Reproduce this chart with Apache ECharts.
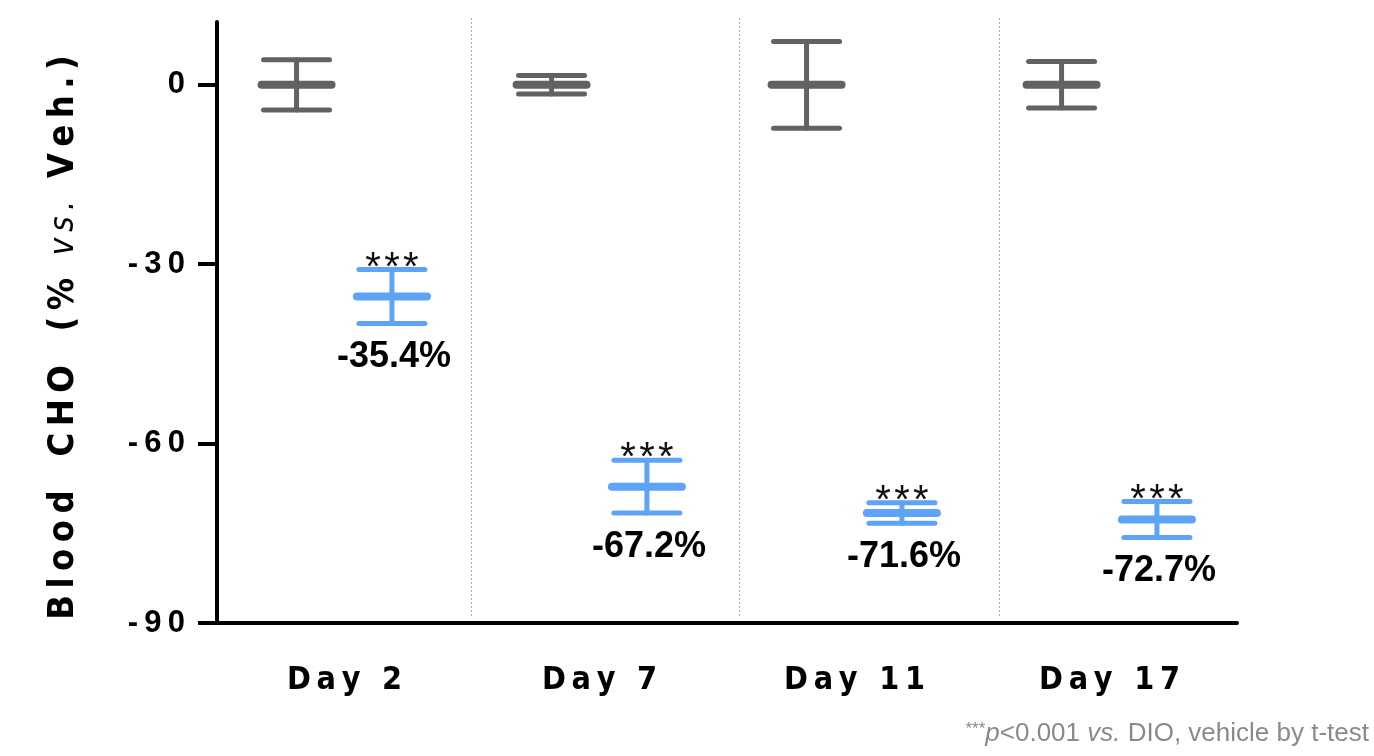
<!DOCTYPE html>
<html>
<head>
<meta charset="utf-8">
<title>Blood CHO</title>
<script src="https://cdn.jsdelivr.net/npm/echarts@6/dist/echarts.min.js"></script>
<style>
  html, body { margin: 0; padding: 0; background: #ffffff; }
  #chart { width: 1374px; height: 756px; }
</style>
</head>
<body>
<div id="chart"></div>
<script>
// Study days on the x axis
const days = ['Day 2', 'Day 7', 'Day 11', 'Day 17'];
// Vehicle group: change vs. vehicle (%) and SEM
const vehicleMean = [0, 0, 0, 0];
const vehicleSem = [4.2, 1.55, 7.25, 3.9];
// Treated group: change vs. vehicle (%) and SEM
const treatedMean = [-35.4, -67.2, -71.6, -72.7];
const treatedSem = [4.5, 4.4, 1.7, 3.0];
// Significance marks above the treated group
const treatedSig = ['***', '***', '***', '***'];
// Y axis ticks
const yTicks = [-90, -60, -30, 0];
// Dotted dividers between days (in day-slot units from the y axis)
const dividerAt = [0.995, 2.047, 3.067];

const GRAY = '#626262';
const BLUE = '#5ea3f6';
const THIN = '\u2009';
const HAIR = '\u200A';
const spaced = (s, sep) => s.split('').join(sep || THIN);
// letter-spaced words, wider gap between words
const spacedWords = (s) => s.split(' ').map(w => spaced(w)).join('   ');

const boldFont = '"Liberation Sans", Arial, "Helvetica Neue", sans-serif';
const narrowFont = '"Liberation Sans Narrow", "DejaVu Sans Condensed", "Arial Narrow", "Liberation Sans", sans-serif';

function errorBar(color, offset, withLabels) {
  return function (params, api) {
    const idx = api.value(0);
    const mean = api.value(1);
    const sem = api.value(2);
    const band = api.size([1, 0])[0];
    const x = api.coord([idx, mean])[0] + offset * band;
    const yM = api.coord([idx, mean])[1];
    const yT = api.coord([idx, mean + sem])[1];
    const yB = api.coord([idx, mean - sem])[1];
    const capHalf = 33, meanHalf = 35;
    const line = (x1, y1, x2, y2, w) => ({
      type: 'line',
      shape: { x1, y1, x2, y2 },
      style: { stroke: color, lineWidth: w, lineCap: 'round' }
    });
    const children = [
      line(x, yT, x, yB, 5),
      line(x - capHalf, yT, x + capHalf, yT, 5),
      line(x - capHalf, yB, x + capHalf, yB, 5),
      line(x - meanHalf, yM, x + meanHalf, yM, 8)
    ];
    if (withLabels) {
      children.push({
        type: 'text',
        style: {
          x: x, y: yT + 19,
          text: spaced(treatedSig[params.dataIndex], HAIR),
          align: 'center', verticalAlign: 'bottom',
          font: '40px ' + boldFont, fill: '#111111'
        }
      });
      children.push({
        type: 'text',
        style: {
          x: x + 2, y: yB + 34,
          text: mean.toFixed(1) + '%',
          align: 'center', verticalAlign: 'middle',
          font: 'bold 36px ' + boldFont, fill: '#000000'
        }
      });
    }
    return { type: 'group', children };
  };
}

const chart = echarts.init(document.getElementById('chart'), null, { renderer: 'canvas' });

const option = {
  backgroundColor: '#ffffff',
  animation: false,
  grid: { left: 217, right: 137, top: 22, bottom: 133, containLabel: false },
  title: {
    right: 0, bottom: 4,
    text: '{s|***}{i|p}{n|<0.001 }{i|vs.}{n| DIO, vehicle by t-test}',
    textStyle: {
      fontWeight: 'normal',
      rich: {
        s: { fontSize: 17, color: '#8a8a8a', fontFamily: boldFont, fontWeight: 'normal', verticalAlign: 'top', padding: [0, 0, 8, 0] },
        i: { fontSize: 26, color: '#8a8a8a', fontFamily: boldFont, fontWeight: 'normal', fontStyle: 'italic' },
        n: { fontSize: 26, color: '#8a8a8a', fontFamily: boldFont, fontWeight: 'normal' }
      }
    }
  },
  xAxis: [
    {
      type: 'category',
      data: days,
      boundaryGap: true,
      axisLine: { onZero: false, lineStyle: { color: '#000', width: 4 } },
      axisTick: { alignWithLabel: true, length: 17, lineStyle: { color: '#000', width: 4 } },
      axisLabel: {
        margin: 42,
        formatter: v => spaced(v),
        fontFamily: narrowFont, fontWeight: 'bold', fontSize: 32, color: '#000'
      },
      splitLine: { show: false }
    },
    {
      type: 'value',
      min: 0, max: 4,
      show: false
    }
  ],
  yAxis: {
    type: 'value',
    min: -90, max: 10.5, interval: 30,
    axisLine: { show: true, lineStyle: { color: '#000', width: 4 } },
    axisTick: { show: true, customValues: yTicks, length: 19, lineStyle: { color: '#000', width: 4 } },
    axisLabel: {
      customValues: yTicks, margin: 32,
      formatter: v => spaced(String(v)),
      fontFamily: boldFont, fontWeight: 'bold', fontSize: 31, color: '#000'
    },
    splitLine: { show: false },
    name: '{b|' + spacedWords('Blood CHO (%') + '  }{i|' + spaced('vs.') + '}{b|  ' + spaced('Veh.)') + '}',
    nameLocation: 'middle',
    nameRotate: 90,
    nameGap: 135,
    nameTextStyle: {
      padding: [0, 30, 0, 0],
      rich: {
        b: { fontFamily: narrowFont, fontWeight: 'bold', fontSize: 36, color: '#000' },
        i: { fontFamily: narrowFont, fontStyle: 'italic', fontSize: 33, color: '#000' }
      }
    }
  },
  series: [
    {
      name: 'dividers',
      type: 'custom',
      xAxisIndex: 1,
      silent: true,
      data: dividerAt.map(v => [v]),
      renderItem: function (params, api) {
        const x = Math.round(api.coord([api.value(0), 0])[0]) + 0.5;
        const cs = params.coordSys;
        return {
          type: 'line',
          shape: { x1: x, y1: cs.y - 4, x2: x, y2: cs.y + cs.height - 6 },
          style: { stroke: '#a8a8a8', lineWidth: 1, lineDash: [2, 2] }
        };
      },
      z: 1
    },
    {
      name: 'Vehicle',
      type: 'custom',
      data: vehicleMean.map((m, i) => [i, m, vehicleSem[i]]),
      renderItem: errorBar(GRAY, -0.188, false),
      z: 3
    },
    {
      name: 'Treated',
      type: 'custom',
      data: treatedMean.map((m, i) => [i, m, treatedSem[i]]),
      renderItem: errorBar(BLUE, 0.186, true),
      z: 3
    }
  ]
};

chart.setOption(option);
</script>
</body>
</html>
